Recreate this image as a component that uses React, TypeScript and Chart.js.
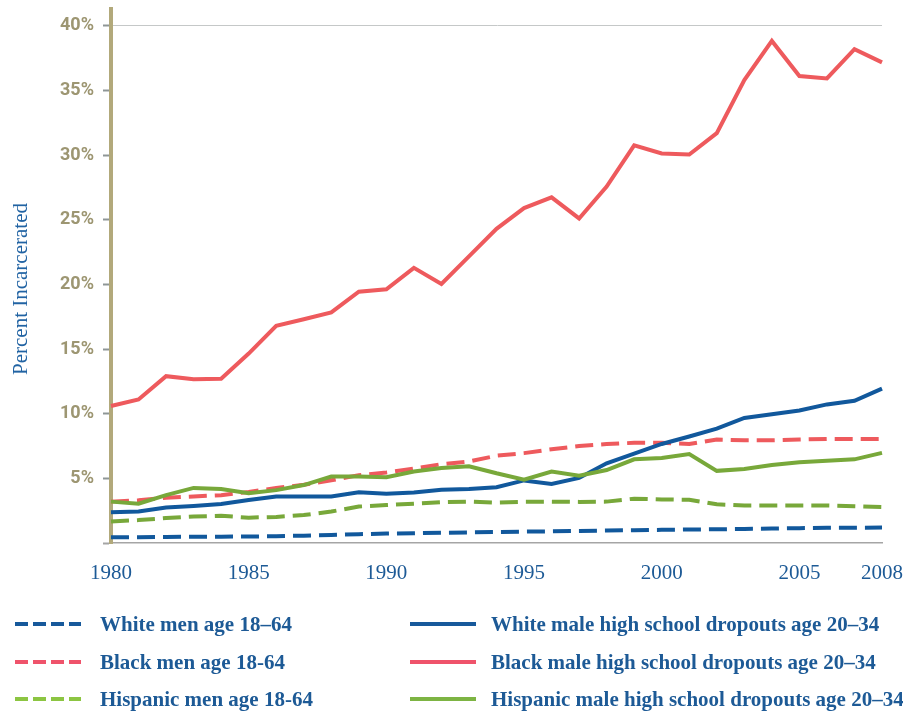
import React, { useEffect, useRef } from "react";
import { Chart, registerables } from "chart.js";

Chart.register(...registerables);

const years = [
  "1980", "1981", "1982", "1983", "1984", "1985", "1986", "1987", "1988", "1989",
  "1990", "1991", "1992", "1993", "1994", "1995", "1996", "1997", "1998", "1999",
  "2000", "2001", "2002", "2003", "2004", "2005", "2006", "2007", "2008",
];

const xTickLabels = ["1980", "1985", "1990", "1995", "2000", "2005", "2008"];
const yTickValues = [0, 5, 10, 15, 20, 25, 30, 35, 40];

const whiteMen = [0.44, 0.45, 0.47, 0.48, 0.49, 0.5, 0.53, 0.57, 0.62, 0.68, 0.73, 0.76, 0.79, 0.82, 0.85, 0.88, 0.9, 0.93, 0.96, 0.99, 1.02, 1.04, 1.06, 1.09, 1.12, 1.15, 1.17, 1.18, 1.19];
const blackMen = [3.2, 3.3, 3.5, 3.6, 3.7, 3.95, 4.25, 4.5, 4.85, 5.25, 5.45, 5.75, 6.1, 6.3, 6.75, 6.95, 7.25, 7.5, 7.65, 7.75, 7.75, 7.65, 8.0, 7.95, 7.95, 8.0, 8.05, 8.05, 8.05];
const hispanicMen = [1.66, 1.77, 1.93, 2.05, 2.1, 1.96, 2.02, 2.16, 2.43, 2.82, 2.93, 3.04, 3.15, 3.2, 3.12, 3.18, 3.2, 3.18, 3.2, 3.43, 3.37, 3.34, 2.99, 2.9, 2.9, 2.9, 2.9, 2.85, 2.79];
const whiteDropouts = [2.38, 2.43, 2.74, 2.87, 3.01, 3.32, 3.59, 3.59, 3.6, 3.92, 3.81, 3.9, 4.12, 4.17, 4.31, 4.84, 4.56, 5.03, 6.16, 6.91, 7.66, 8.24, 8.84, 9.67, 9.95, 10.25, 10.72, 11.0, 11.94];
const blackDropouts = [10.6, 11.1, 12.9, 12.66, 12.7, 14.65, 16.8, 17.3, 17.83, 19.43, 19.62, 21.28, 20.04, 22.17, 24.3, 25.9, 26.73, 25.1, 27.56, 30.76, 30.13, 30.04, 31.7, 35.8, 38.83, 36.12, 35.93, 38.2, 37.17];
const hispanicDropouts = [3.2, 3.04, 3.7, 4.26, 4.17, 3.84, 4.09, 4.48, 5.14, 5.14, 5.09, 5.53, 5.8, 5.94, 5.39, 4.89, 5.53, 5.2, 5.64, 6.47, 6.58, 6.88, 5.58, 5.72, 6.03, 6.25, 6.36, 6.47, 6.97];

const BLUE = "#11589c";
const RED = "#ee5a5d";
const GREEN = "#78a83a";
const TEXT_BLUE = "#1d5a96";

const series = [
  { label: "White men age 18–64", data: whiteMen, color: BLUE, legendColor: "#17599b", dashed: true, col: 0, row: 0 },
  { label: "Black men age 18-64", data: blackMen, color: RED, legendColor: "#ef536b", dashed: true, col: 0, row: 1 },
  { label: "Hispanic men age 18-64", data: hispanicMen, color: GREEN, legendColor: "#8cc542", dashed: true, col: 0, row: 2 },
  { label: "White male high school dropouts age 20–34", data: whiteDropouts, color: BLUE, legendColor: "#17599b", dashed: false, col: 1, row: 0 },
  { label: "Black male high school dropouts age 20–34", data: blackDropouts, color: RED, legendColor: "#ef536b", dashed: false, col: 1, row: 1 },
  { label: "Hispanic male high school dropouts age 20–34", data: hispanicDropouts, color: GREEN, legendColor: "#7db443", dashed: false, col: 1, row: 2 },
];

const legendRowY = [624, 661.5, 699];
const legendSampleX = [15, 410];
const legendTextX = [100, 491];

export default function App() {
  const ref = useRef<HTMLCanvasElement>(null);

  useEffect(() => {
    const chart = new Chart(ref.current as HTMLCanvasElement, {
      type: "line",
      data: {
        labels: years,
        datasets: series
          .slice()
          .reverse()
          .map((s) => ({
            label: s.label,
            data: s.data,
            borderColor: s.color,
            backgroundColor: s.color,
            borderWidth: 4,
            borderDash: s.dashed ? [18, 8] : [],
            borderCapStyle: "butt",
            borderJoinStyle: "miter",
            pointRadius: 0,
            tension: 0,
            fill: false,
          })),
      },
      options: {
        responsive: false,
        animation: false,
        layout: { padding: { top: 9, right: 21, bottom: 0, left: 0 } },
        plugins: { legend: { display: false }, tooltip: { enabled: false } },
        scales: {
          x: {
            type: "category",
            offset: false,
            grid: { display: false },
            border: { display: true, color: "#a5a5a5", width: 1.5 },
            ticks: {
              autoSkip: false,
              maxRotation: 0,
              padding: 10,
              color: TEXT_BLUE,
              font: { family: '"Liberation Serif", serif', size: 21 },
              callback: (_v: any, i: number) => (xTickLabels.includes(years[i]) ? years[i] : ""),
            },
            afterFit: (s: any) => {
              s.height = 170;
              s.paddingLeft = 0;
              s.paddingRight = 0;
            },
          },
          y: {
            type: "linear",
            min: 0,
            max: 41.3,
            afterBuildTicks: (s: any) => {
              s.ticks = yTickValues.map((v) => ({ value: v }));
            },
            grid: {
              color: (c: any) => (c.tick && c.tick.value === 40 ? "#c5c8c8" : "rgba(0,0,0,0)"),
              tickColor: (c: any) => (c.tick && c.tick.value === 0 ? "#a5a5a5" : "#8e9696"),
              tickLength: 8,
              tickWidth: 2,
              lineWidth: 1,
            },
            border: { display: true, color: "#b2a97b", width: 4 },
            ticks: {
              padding: 9,
              color: "#9d9672",
              font: { family: "Roboto, sans-serif", weight: "bold", size: 18 },
              callback: (v: any) => (v === 0 ? "" : v + "%"),
            },
            afterFit: (s: any) => {
              s.width = 111;
              s.paddingTop = 0;
              s.paddingBottom = 0;
            },
          },
        },
      } as any,
    });
    return () => chart.destroy();
  }, []);

  return (
    <div style={{ position: "fixed", left: 0, top: 0, width: 903, height: 713, background: "#fff", overflow: "hidden" }}>
      <canvas ref={ref} width={903} height={713} style={{ position: "absolute", left: 0, top: 0, width: 903, height: 713 }} />
      <div
        style={{
          position: "absolute",
          left: 19.5 - 150,
          top: 288.5 - 12,
          width: 300,
          height: 24,
          lineHeight: "24px",
          textAlign: "center",
          transform: "rotate(-90deg)",
          font: '21px "Liberation Serif", serif',
          color: "#2163a3",
          whiteSpace: "nowrap",
        }}
      >
        Percent Incarcerated
      </div>
      {series.map((s) => {
        const cy = legendRowY[s.row];
        return (
          <React.Fragment key={s.label}>
            <svg
              width={66}
              height={6}
              style={{ position: "absolute", left: legendSampleX[s.col], top: cy - 3 }}
            >
              <line
                x1={0}
                y1={3}
                x2={66}
                y2={3}
                stroke={s.legendColor}
                strokeWidth={4}
                strokeDasharray={s.dashed ? "13 5" : undefined}
              />
            </svg>
            <div
              style={{
                position: "absolute",
                left: legendTextX[s.col],
                top: cy - 12,
                height: 24,
                lineHeight: "24px",
                font: 'bold 21px "Liberation Serif", serif',
                color: TEXT_BLUE,
                whiteSpace: "nowrap",
              }}
            >
              {s.label}
            </div>
          </React.Fragment>
        );
      })}
    </div>
  );
}
